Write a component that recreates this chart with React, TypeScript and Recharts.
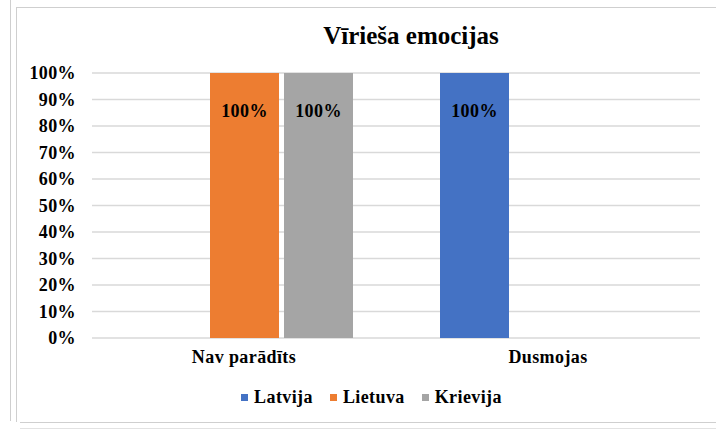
import React from "react"
import {
  BarChart,
  Bar,
  XAxis,
  YAxis,
  CartesianGrid,
  Legend,
  LabelList,
} from "recharts"

const categories = ["Nav parādīts", "Dusmojas"]
const latvija = [0, 100]
const lietuva = [100, 0]
const krievija = [100, 0]
const yTicks = [0, 10, 20, 30, 40, 50, 60, 70, 80, 90, 100]

const series = [
  { key: "Latvija", values: latvija, color: "#4472C4" },
  { key: "Lietuva", values: lietuva, color: "#ED7D31" },
  { key: "Krievija", values: krievija, color: "#A5A5A5" },
]

const data = categories.map((name, i) => {
  const row: any = { name }
  series.forEach((s) => {
    row[s.key] = s.values[i]
  })
  return row
})

const font = "'Liberation Serif', 'Times New Roman', Times, serif"
const textStyle = { fill: "#000", fontSize: 18, fontWeight: 700, fontFamily: font, letterSpacing: 0.4 }

const renderLegend = () => (
  <div style={{ display: "flex", justifyContent: "center", alignItems: "center", fontFamily: font, fontWeight: 700, fontSize: 18, letterSpacing: 0.4, color: "#000", paddingLeft: 48 }}>
    {series.map((s) => (
      <div key={s.key} style={{ display: "flex", alignItems: "center", marginRight: 17 }}>
        <span style={{ display: "inline-block", width: 7, height: 7, background: s.color, marginRight: 6 }} />
        <span>{s.key}</span>
      </div>
    ))}
  </div>
)

export default function App() {
  return (
    <div style={{ position: "absolute", left: 0, top: 0, width: 716, height: 431, background: "#fff" }}>
      {/* frame lines around the chart */}
      <div style={{ position: "absolute", left: 10, top: 0, width: 1, height: 421, background: "#cfcfcf" }} />
      <div style={{ position: "absolute", left: 16, top: 8, width: 1, height: 414, background: "#cfcfcf" }} />
      <div style={{ position: "absolute", left: 16, top: 7, width: 700, height: 1, background: "#cfcfcf" }} />
      <div style={{ position: "absolute", left: 20, top: 422, width: 696, height: 1, background: "#cfcfcf" }} />
      <div style={{ position: "absolute", left: 20, top: 428, width: 696, height: 1, background: "#e2e2e2" }} />

      <div style={{ position: "absolute", left: 0, top: 22, width: 716, textAlign: "center", paddingLeft: 106, boxSizing: "border-box", fontFamily: font, fontWeight: 700, fontSize: 25, color: "#000" }}>
        Vīrieša emocijas
      </div>

      <BarChart
        width={716}
        height={431}
        data={data}
        margin={{ top: 73, right: 16, left: 12, bottom: 32 }}
        barCategoryGap={44}
        barGap={5}
        style={{ position: "absolute", left: 0, top: 0 }}
      >
        <CartesianGrid vertical={false} stroke="#d9d9d9" strokeWidth={1.5} />
        <XAxis
          dataKey="name"
          axisLine={false}
          tickLine={false}
          tickMargin={6}
          height={40}
          tick={textStyle}
        />
        <YAxis
          domain={[0, 100]}
          ticks={yTicks}
          width={80}
          axisLine={false}
          tickLine={false}
          tickMargin={10}
          tickFormatter={(v) => `${v}%`}
          tick={textStyle}
        />
        <Legend verticalAlign="bottom" content={renderLegend} wrapperStyle={{ bottom: 23 }} />
        {series.map((s) => (
          <Bar key={s.key} dataKey={s.key} fill={s.color} isAnimationActive={false}>
            <LabelList
              dataKey={s.key}
              position="insideTop"
              offset={31}
              formatter={(v: any) => (v ? `${v}%` : "")}
              style={textStyle}
            />
          </Bar>
        ))}
      </BarChart>
    </div>
  )
}
